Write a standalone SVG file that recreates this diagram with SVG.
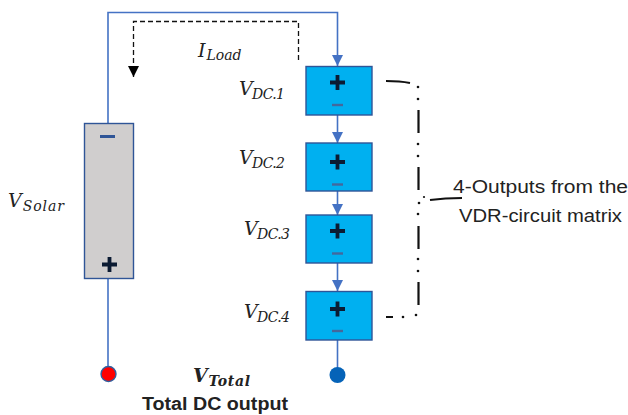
<svg xmlns="http://www.w3.org/2000/svg" width="628" height="415" viewBox="0 0 628 415">
<defs>
<marker id="blue" markerUnits="userSpaceOnUse" markerWidth="12" markerHeight="12" refX="11" refY="6" orient="auto"><path d="M0,0.5L11,6L0,11.5Z" fill="#4472c4"/></marker>
<marker id="black" markerUnits="userSpaceOnUse" markerWidth="12" markerHeight="12" refX="11" refY="6" orient="auto"><path d="M0,0.5L11,6L0,11.5Z" fill="#000"/></marker>
</defs>
<style>
.wire{fill:none;stroke:#4472c4;stroke-width:1.6}
.dc{fill:#00b0f0;stroke:#2f5597;stroke-width:1.4}
.solar{fill:#d0cece;stroke:#2f5597;stroke-width:1.4}
.plus{fill:none;stroke:#0b1b33;stroke-width:3.800}
.minus{stroke:#44689c;stroke-width:2.400}
.minusS{stroke:#2f5597;stroke-width:3}
.m{font-family:"DejaVu Serif","Liberation Serif",serif;font-style:italic;fill:#222;font-size:19px}
.s{font-size:14px}
.t{font-family:"Liberation Sans",Arial,sans-serif;fill:#222;font-size:17.500px}
.dd{fill:none;stroke:#111;stroke-width:2.200}
.dot{fill:#111}
</style>
<g id="connectors">
<path class="wire" d="M108,123V12.500H337.500V66" marker-end="url(#blue)"/>
<path class="wire" d="M337.500,115V143" marker-end="url(#blue)"/>
<path class="wire" d="M337.500,191V215" marker-end="url(#blue)"/>
<path class="wire" d="M337.500,263V291" marker-end="url(#blue)"/>
<path class="wire" d="M337.500,340V368"/>
<path class="wire" d="M108,278V366"/>
<path d="M298.500,60V21.500H133.500V77" fill="none" stroke="#111" stroke-width="1.300" stroke-dasharray="5 3" marker-end="url(#black)"/>
<path class="dd" d="M386,81Q400,81 410,83M418.500,110V133M418.500,167V190M418.500,226V249M418.500,282V305M386,317H393M430,200Q445,198 462,198"/>
<g class="dot"><circle cx="418" cy="87" r="1.300"/><circle cx="418" cy="99" r="1.300"/><circle cx="418" cy="144" r="1.300"/><circle cx="418" cy="156" r="1.300"/><circle cx="424" cy="197" r="1.100"/><circle cx="419" cy="203" r="1.300"/><circle cx="418" cy="214" r="1.300"/><circle cx="418" cy="259" r="1.300"/><circle cx="418" cy="271" r="1.300"/><circle cx="416" cy="315" r="1.300"/><circle cx="403" cy="317" r="1.300"/></g>
</g>
<g id="solar"><rect class="solar" x="84.500" y="123.500" width="49" height="155"/><path class="minusS" d="M100,136.500H115"/><path class="plus" d="M102,264.500H117M109.500,257V272"/></g>
<g id="dc1"><rect class="dc" x="306" y="66.500" width="66" height="48.500"/><path class="plus" d="M330,82.500H345M337.500,75V90"/><path class="minus" d="M332,105H343"/></g>
<g id="dc2"><rect class="dc" x="306" y="143" width="66" height="48"/><path class="plus" d="M330,162H345M337.500,154.500V169.500"/><path class="minus" d="M332,184.500H343"/></g>
<g id="dc3"><rect class="dc" x="306" y="215" width="66" height="48"/><path class="plus" d="M330,231H345M337.500,223.500V238.500"/><path class="minus" d="M332,253.500H343"/></g>
<g id="dc4"><rect class="dc" x="306" y="291.500" width="66" height="48.500"/><path class="plus" d="M330,309H345M337.500,301.500V316.500"/><path class="minus" d="M332,331H343"/></g>
<g id="red-terminal"><circle cx="108.500" cy="374" r="7.500" fill="#ff0000" stroke="#2f5f9f" stroke-width="1.400"/></g>
<g id="blue-terminal"><circle cx="337.500" cy="375" r="8" fill="#0563b8"/></g>
<g id="labels">
<text class="m" x="198" y="57">I<tspan class="s" dx="1" dy="3">Load</tspan></text>
<text class="m" x="239" y="95" textLength="46">V<tspan class="s" dy="4">DC.1</tspan></text>
<text class="m" x="239" y="164" textLength="46">V<tspan class="s" dy="4">DC.2</tspan></text>
<text class="m" x="244" y="235" textLength="46">V<tspan class="s" dy="4">DC.3</tspan></text>
<text class="m" x="244" y="318" textLength="46">V<tspan class="s" dy="4">DC.4</tspan></text>
<text class="m" x="8" y="207" textLength="56">V<tspan class="s" dy="4">Solar</tspan></text>
<text class="m" x="193" y="382" font-weight="bold" textLength="57">V<tspan class="s" dy="4">Total</tspan></text>
<text class="t" x="142" y="410" font-weight="bold" font-size="17.500" textLength="146" lengthAdjust="spacingAndGlyphs">Total DC output</text>
<text class="t" x="453" y="193" textLength="175" lengthAdjust="spacingAndGlyphs">4-Outputs from the</text>
<text class="t" x="459" y="222" textLength="163" lengthAdjust="spacingAndGlyphs">VDR-circuit matrix</text>
</g>
</svg>
